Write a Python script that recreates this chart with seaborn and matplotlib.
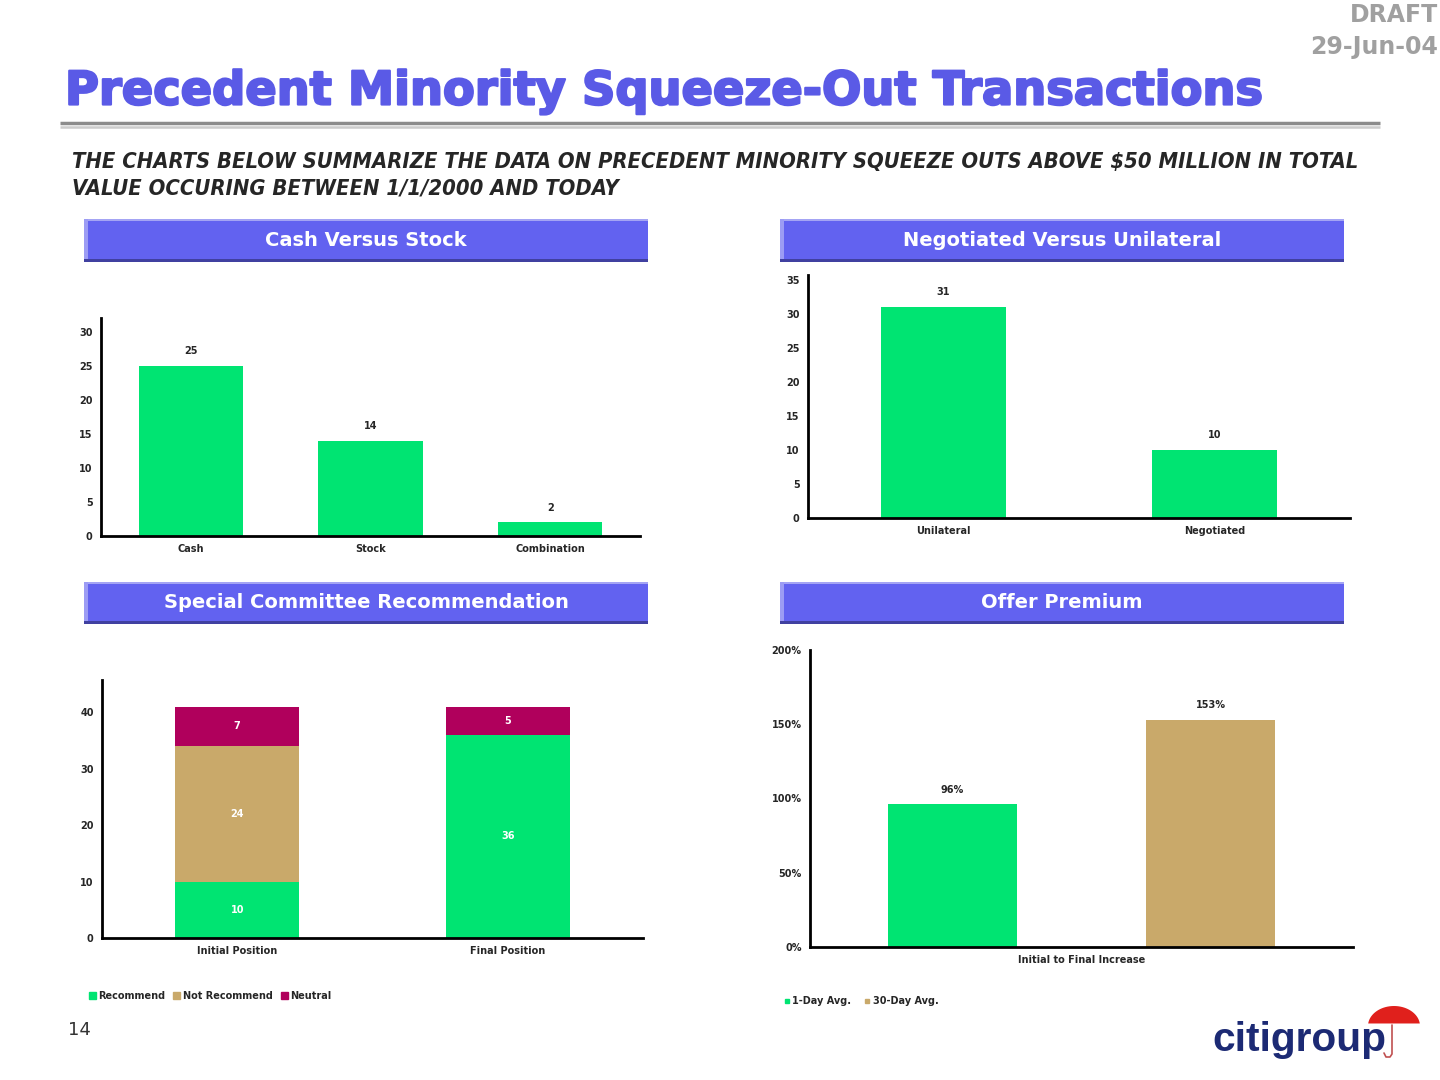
import numpy as np
import pandas as pd
import seaborn as sns
import matplotlib.pyplot as plt
import matplotlib.patheffects as pe
from matplotlib.patches import Rectangle, Polygon, Patch
from matplotlib.lines import Line2D

# chart data
consid_cats = ['Cash', 'Stock', 'Combination']
consid_vals = [25, 14, 2]

neg_cats = ['Unilateral', 'Negotiated']
neg_vals = [31, 10]

pos_cats = ['Initial Position', 'Final Position']
recommend = [10, 36]
not_recommend = [24, 0]
neutral = [7, 5]

prem_cat = ['Initial to Final Increase']
prem_series = ['1-Day Avg.', '30-Day Avg.']
prem_vals = [96, 153]

GREEN = '#00e472'
TAN = '#c9a96a'
MAROON = '#b0005c'
HEAD = '#6262f0'
TITLE_BLUE = '#5a5ae6'

sns.set_style('white')
plt.rcParams['font.family'] = ['DejaVu Sans']
plt.rcParams['font.weight'] = 'bold'

W, H = 1440, 1080
fig = plt.figure(figsize=(14.4, 10.8), dpi=100)
bg = fig.add_axes([0, 0, 1, 1], zorder=-1)
bg.set_xlim(0, W)
bg.set_ylim(H, 0)
bg.axis('off')


def px_axes(x0, y0, x1, y1):
    ax = fig.add_axes([x0 / W, 1 - y1 / H, (x1 - x0) / W, (y1 - y0) / H])
    ax.set_facecolor('none')
    return ax


def style(ax, ticks):
    sns.despine(ax=ax)
    for s in ['left', 'bottom']:
        ax.spines[s].set_linewidth(2)
        ax.spines[s].set_color('black')
    ax.set_yticks(ticks)
    ax.tick_params(length=0, labelsize=7, pad=6)
    ax.set_xlabel('')
    ax.set_ylabel('')


def header(x0, y0, x1, y1, label):
    bg.add_patch(Rectangle((x0, y0), x1 - x0, y1 - y0, color=HEAD, lw=0))
    bg.add_patch(Rectangle((x0, y0), x1 - x0, 2, color='#a4a4f4', lw=0))
    bg.add_patch(Rectangle((x0, y0), 4, y1 - y0, color='#9c9cf4', lw=0))
    bg.add_patch(Rectangle((x0, y1 - 3), x1 - x0, 3, color='#4040a0', lw=0))
    bg.text((x0 + x1) / 2, (y0 + y1) / 2, label, color='white', fontsize=14,
            fontweight='bold', ha='center', va='center')


def fit_width(t, target):
    r = fig.canvas.get_renderer()
    w = t.get_window_extent(r).width
    t.set_fontsize(t.get_fontsize() * target / w)


# page furniture
title = bg.text(65, 92, 'Precedent Minority Squeeze-Out Transactions', color=TITLE_BLUE,
                fontsize=34, fontweight='heavy', va='center')
fit_width(title, 1200)
title.set_path_effects([pe.withStroke(linewidth=1.6, foreground=TITLE_BLUE)])
bg.plot([60, 1380], [123, 123], color='#8c8c8c', lw=2.5, solid_capstyle='butt')
bg.plot([60, 1380], [126.5, 126.5], color='#cccccc', lw=1.8, solid_capstyle='butt')

sub1 = bg.text(72, 162, 'THE CHARTS BELOW SUMMARIZE THE DATA ON PRECEDENT MINORITY SQUEEZE OUTS ABOVE $50 MILLION IN TOTAL',
               fontsize=15, style='italic', fontweight='bold', va='center', fontstretch='condensed')
fit_width(sub1, 1290)
bg.text(72, 188, 'VALUE OCCURING BETWEEN 1/1/2000 AND TODAY', fontsize=sub1.get_fontsize(),
        style='italic', fontweight='bold', va='center', fontstretch='condensed')

bg.text(1438, 15, 'DRAFT', ha='right', va='center', color='#a0a0a0', fontsize=17, fontweight='bold')
bg.text(1438, 47, '29-Jun-04', ha='right', va='center', color='#a0a0a0', fontsize=17, fontweight='bold')
bg.text(68, 1030, '14', fontsize=13, color='#333333', va='center', fontweight='normal')

logo = bg.text(1212, 1040, 'citigroup', color='#1c2a74', fontsize=30, fontweight='bold',
               va='center', family='Liberation Sans')
fit_width(logo, 174)
th = np.linspace(np.pi * 1.04, np.pi * 1.96, 40)
canopy = np.c_[1394 + 26 * np.cos(th), 1026 + 20 * np.sin(th)]
bg.add_patch(Polygon(canopy, closed=True, color='#e0201c', lw=0))
bg.plot([1392, 1392, 1390, 1386, 1384], [1025, 1054, 1057, 1057, 1053], color='#c05050', lw=1.2)

header(84, 219, 648, 262, 'Cash Versus Stock')
header(780, 219, 1344, 262, 'Negotiated Versus Unilateral')
header(84, 582, 648, 624, 'Special Committee Recommendation')
header(780, 582, 1344, 624, 'Offer Premium')

# Cash versus stock
df1 = pd.DataFrame({'type': consid_cats, 'count': consid_vals})
ax1 = px_axes(101, 318, 640, 536)
sns.barplot(data=df1, x='type', y='count', color=GREEN, width=0.58, saturation=1, linewidth=0, ax=ax1)
ax1.set_xlim(-0.5, 2.5)
ax1.set_ylim(0, 32)
style(ax1, range(0, 31, 5))
ax1.bar_label(ax1.containers[0], fontsize=7, padding=7)

# Negotiated versus unilateral
df2 = pd.DataFrame({'type': neg_cats, 'count': neg_vals})
ax2 = px_axes(808, 275, 1350, 518)
sns.barplot(data=df2, x='type', y='count', color=GREEN, width=0.46, saturation=1, linewidth=0, ax=ax2)
ax2.set_xlim(-0.5, 1.5)
ax2.set_ylim(0, 35.7)
style(ax2, range(0, 36, 5))
ax2.bar_label(ax2.containers[0], fontsize=7, padding=7)

# Special committee recommendation (stacked)
ax3 = px_axes(102, 680, 643, 938)
rec = np.array(recommend)
notrec = np.array(not_recommend)
neu = np.array(neutral)
layers = [(neu, rec + notrec, MAROON), (notrec, rec, TAN), (rec, np.zeros_like(rec), GREEN)]
for vals, base, col in layers:
    d = pd.DataFrame({'pos': pos_cats, 'top': vals + base})
    sns.barplot(data=d, x='pos', y='top', order=pos_cats, color=col, width=0.46, saturation=1,
                linewidth=0, ax=ax3)
    for i, (v, b) in enumerate(zip(vals, base)):
        if v > 0:
            ax3.text(i, b + v / 2, str(v), color='white', fontsize=7, ha='center', va='center')
ax3.set_xlim(-0.5, 1.5)
ax3.set_ylim(0, 45.7)
style(ax3, range(0, 41, 10))
fig.legend(handles=[Patch(color=GREEN, label='Recommend'), Patch(color=TAN, label='Not Recommend'),
                    Patch(color=MAROON, label='Neutral')],
           loc='center left', bbox_to_anchor=(80 / W, 1 - 996 / H), ncol=3, frameon=False, fontsize=7,
           handlelength=0.7, handleheight=0.7, handletextpad=0.3, columnspacing=0.8)

# Offer premium
df4 = pd.DataFrame({'metric': prem_cat * 2, 'series': prem_series, 'value': prem_vals})
ax4 = px_axes(810, 650, 1353, 947)
sns.barplot(data=df4, x='metric', y='value', hue='series', palette=[GREEN, TAN], width=0.95,
            gap=0.5, saturation=1, linewidth=0, legend=False, ax=ax4)
ax4.set_xlim(-0.5, 0.5)
ax4.set_ylim(0, 200)
style(ax4, range(0, 201, 50))
ax4.yaxis.set_major_formatter(lambda v, p: f'{v:.0f}%')
for c in ax4.containers:
    ax4.bar_label(c, fmt='{:.0f}%', fontsize=7, padding=7)
fig.legend(handles=[Line2D([], [], ls='', marker='s', ms=3, color=GREEN, label='1-Day Avg.'),
                    Line2D([], [], ls='', marker='s', ms=3, color=TAN, label='30-Day Avg.')],
           loc='center left', bbox_to_anchor=(774 / W, 1 - 1001 / H), ncol=2, frameon=False, fontsize=7,
           handlelength=0.8, handletextpad=0.2, columnspacing=1.2)

fig.savefig('out.png', dpi=100)
